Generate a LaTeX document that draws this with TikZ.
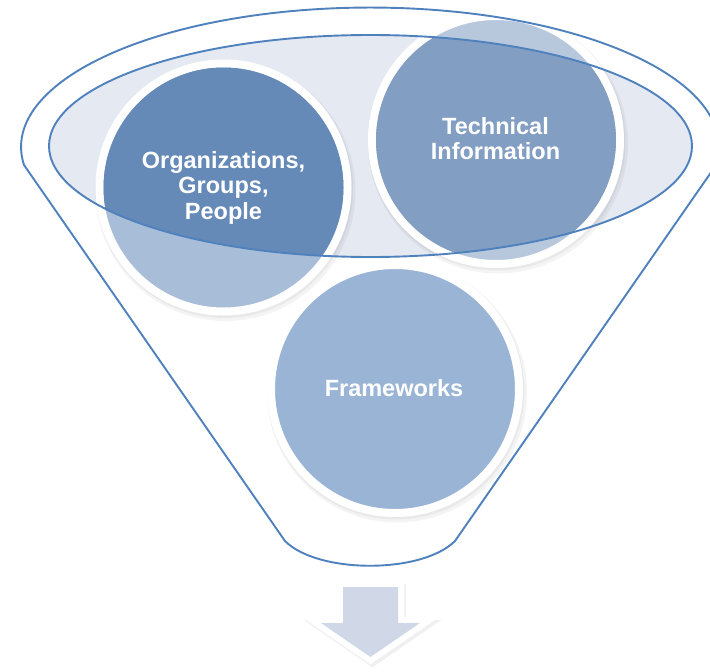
\documentclass[tikz,border=0pt]{standalone}
\usepackage{fontspec}
\setmainfont{Liberation Sans}
\definecolor{lineblue}{RGB}{79,129,189}
\definecolor{ellfill}{RGB}{228,233,242}
\definecolor{orgL}{RGB}{167,189,216}
\definecolor{orgD}{RGB}{101,138,183}
\definecolor{techL}{RGB}{183,200,221}
\definecolor{techD}{RGB}{130,158,195}
\definecolor{frameC}{RGB}{154,180,214}
\definecolor{arrowC}{RGB}{208,216,232}
\begin{document}
\begin{tikzpicture}[x=1pt,y=-1pt,
  edge/.style={draw=lineblue, line width=1.9pt},
  bubble/.style={circle, draw=white, line width=8pt, minimum size=248pt, inner sep=0pt},
  txt/.style={text=white, font=\fontsize{23.5}{25.5}\selectfont\bfseries, align=center, inner sep=0pt},
  shade/.style={fill=black, opacity=0.045}]
\useasboundingbox (0,0) rectangle (710,672);
\fill[white] (0,0) rectangle (710,672);
\clip (0,0) rectangle (710,672);

% inner ellipse fill
\fill[ellfill] (370.5,146) ellipse [x radius=321.5, y radius=111];

% soft shadows under the bubbles
\foreach \cx/\cy in {223.5/187.5, 496/140, 395/389} {
  \fill[shade] (\cx+2,\cy+3.5) circle (130);
  \fill[shade] (\cx+1,\cy+2) circle (128.5);
}

% bubbles
\node[bubble, fill=orgL] (orgs) at (223.5,187.5) {};
\node[bubble, fill=techL] (tech) at (496,140) {};
\node[bubble, fill=frameC] (frame) at (395,389) {};

% darker parts inside the funnel mouth
\begin{scope}
  \clip (370.5,146) ellipse [x radius=321.5, y radius=111];
  \fill[orgD] (orgs.center) circle (120);
  \fill[techD] (tech.center) circle (120);
\end{scope}

% inner ellipse outline
\draw[edge] (370.5,146) ellipse [x radius=321.5, y radius=111];

% funnel outline
\draw[edge, line join=round] (24,165) arc[start angle=172.6, end angle=367.4, x radius=349, y radius=139.5]
  -- (455,541) .. controls (422,574) and (318,574) .. (285,541) -- cycle;

% texts
\node[txt] (orgsT) at (223.5,187.5) {Organizations,\\Groups,\\People};
\node[txt] (techT) at (495.5,138.5) {Technical\\Information};
\node[txt] (frameT) at (394,388.5) {Frameworks};

% down arrow
\begin{scope}[shift={(2,3)}]
  \filldraw[fill=black, draw=black, opacity=0.06, line width=12pt, line join=miter]
    (343,587) -- (398,587) -- (398,623) -- (420,623) -- (370.5,657) -- (321,623) -- (343,623) -- cycle;
\end{scope}
\filldraw[fill=white, draw=white, line width=12pt, line join=miter]
  (343,587) -- (398,587) -- (398,623) -- (420,623) -- (370.5,657) -- (321,623) -- (343,623) -- cycle;
\fill[arrowC]
  (343,587) -- (398,587) -- (398,623) -- (420,623) -- (370.5,657) -- (321,623) -- (343,623) -- cycle;
\end{tikzpicture}
\end{document}
